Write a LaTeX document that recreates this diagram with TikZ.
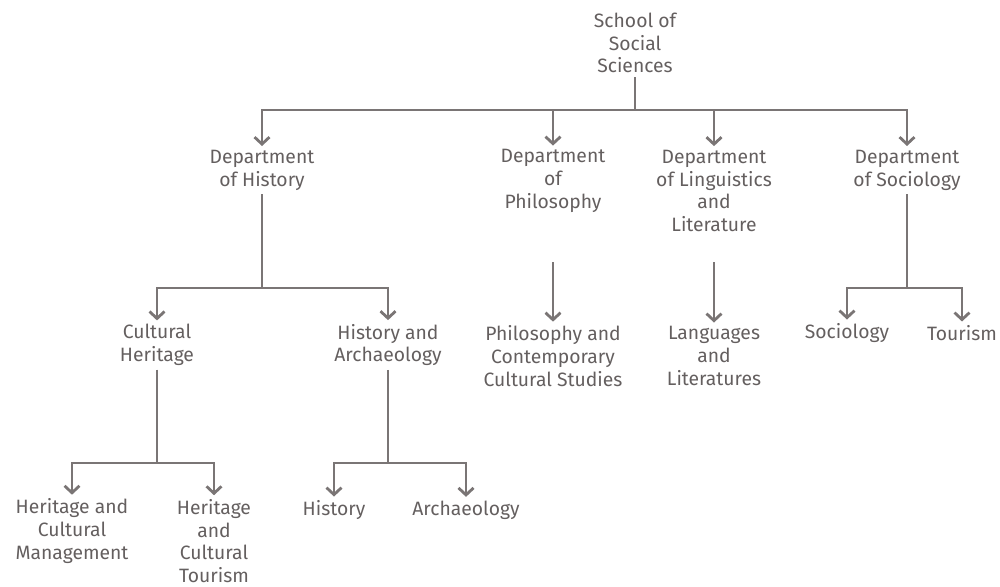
\documentclass[tikz,border=0pt]{standalone}
\usepackage{fontspec}
\setmainfont{Fira Sans}
\usetikzlibrary{arrows.meta}
\definecolor{textgrey}{RGB}{100,95,95}
\definecolor{linegrey}{RGB}{122,117,117}

\tikzset{
    unit/.style={align=center, text=textgrey, inner sep=2pt,
        font=\fontsize{11}{13}\selectfont},
    link/.style={draw=linegrey, line width=1.6pt},
    linkarrow/.style={link, -{Straight Barb[length=1.4mm,width=3mm,line width=1.6pt]}},
}

\begin{document}
\begin{tikzpicture}[x=0.02cm, y=-0.02cm]
    \useasboundingbox (0,0) rectangle (1000,586);

    % Define the positions of the units
    \coordinate (schoolPos) at (635,43);
    \coordinate (histPos) at (262,170);
    \coordinate (philPos) at (553,181);
    \coordinate (lingPos) at (714,191);
    \coordinate (socPos) at (907,170);
    \coordinate (cultPos) at (157,345);
    \coordinate (harchPos) at (388,345);
    \coordinate (pccsPos) at (553,356);
    \coordinate (langPos) at (714,356);
    \coordinate (socioPos) at (847,333);
    \coordinate (tourPos) at (962,333);
    \coordinate (hcmPos) at (72,531);
    \coordinate (hctPos) at (214,541);
    \coordinate (historyPos) at (334,510);
    \coordinate (archPos) at (466,510);

    % Draw the units
    \node[unit] (school) at (schoolPos) {School of\\Social\\Sciences};
    \node[unit] (hist) at (histPos) {Department\\of History};
    \node[unit] (phil) at (philPos) {Department\\of\\Philosophy};
    \node[unit] (ling) at (lingPos) {Department\\of Linguistics\\and\\Literature};
    \node[unit] (soc) at (socPos) {Department\\of Sociology};
    \node[unit] (cult) at (cultPos) {Cultural\\Heritage};
    \node[unit] (harch) at (harchPos) {History and\\Archaeology};
    \node[unit] (pccs) at (pccsPos) {Philosophy and\\Contemporary\\Cultural Studies};
    \node[unit] (lang) at (langPos) {Languages\\and\\Literatures};
    \node[unit] (socio) at (socioPos) {Sociology};
    \node[unit] (tour) at (tourPos) {Tourism};
    \node[unit] (hcm) at (hcmPos) {Heritage and\\Cultural\\Management};
    \node[unit] (hct) at (hctPos) {Heritage\\and\\Cultural\\Tourism};
    \node[unit] (history) at (historyPos) {History};
    \node[unit] (arch) at (archPos) {Archaeology};

    % Junctions of the bars
    \coordinate (schoolBar) at (635,110);
    \coordinate (histBar) at (262,288);
    \coordinate (socBar) at (907,288);
    \coordinate (cultBar) at (157,463);
    \coordinate (harchBar) at (388,463);
    \coordinate (philStart) at (553,262);
    \coordinate (lingStart) at (714,262);

    % School to departments
    \draw[link] (school.south) -- (schoolBar);
    \draw[linkarrow] (schoolBar) -| (hist.north);
    \draw[linkarrow] (schoolBar) -| (phil.north);
    \draw[linkarrow] (schoolBar) -| (ling.north);
    \draw[linkarrow] (schoolBar) -| (soc.north);

    % Departments to programmes
    \draw[link] (hist.south) -- (histBar);
    \draw[linkarrow] (histBar) -| (cult.north);
    \draw[linkarrow] (histBar) -| (harch.north);
    \draw[linkarrow] (philStart) -- (pccs.north);
    \draw[linkarrow] (lingStart) -- (lang.north);
    \draw[link] (soc.south) -- (socBar);
    \draw[linkarrow] (socBar) -| (socio.north);
    \draw[linkarrow] (socBar) -| (tour.north);

    % Programmes to specialisations
    \draw[link] (cult.south) -- (cultBar);
    \draw[linkarrow] (cultBar) -| (hcm.north);
    \draw[linkarrow] (cultBar) -| (hct.north);
    \draw[link] (harch.south) -- (harchBar);
    \draw[linkarrow] (harchBar) -| (history.north);
    \draw[linkarrow] (harchBar) -| (arch.north);
\end{tikzpicture}
\end{document}
